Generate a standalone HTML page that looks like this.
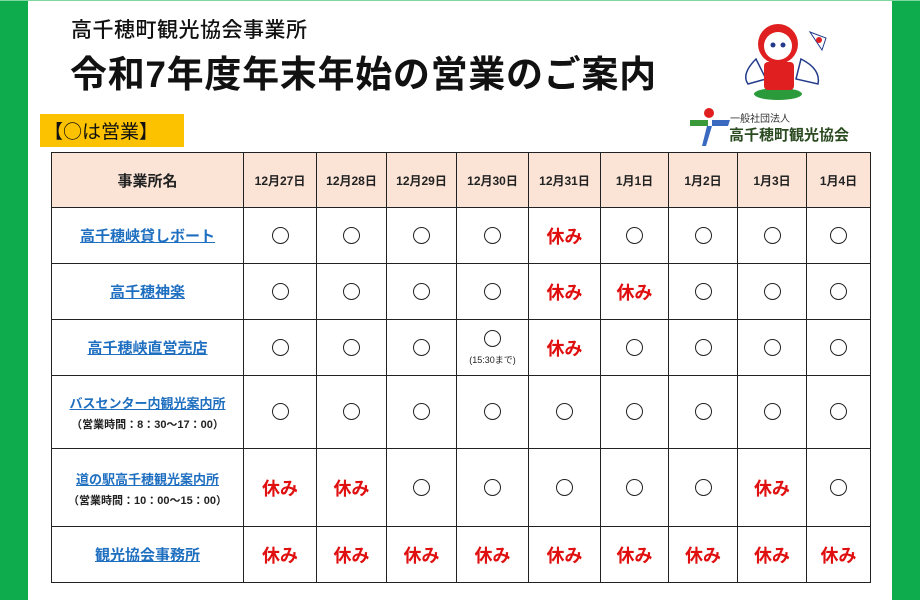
<!DOCTYPE html>
<html><head><meta charset="utf-8"><style>
body{margin:0;width:920px;height:600px;overflow:hidden;background:#fff;font-family:"Liberation Sans","Noto Sans CJK JP",sans-serif;position:relative}
.g{position:absolute;background:#0fac4e}
.t1{position:absolute;left:71px;top:14px;font-size:21px;font-weight:500;color:#111;letter-spacing:0.5px}
.t2{position:absolute;left:70px;top:44px;font-size:37px;font-weight:700;color:#111;letter-spacing:0.7px}
.leg{position:absolute;left:40px;top:114px;width:144px;height:33px;background:#fcc200;font-size:19px;line-height:33px;padding-left:4px;box-sizing:border-box;color:#111;font-family:"Noto Sans CJK JP",sans-serif}
table{position:absolute;left:51px;top:152px;border-collapse:collapse;table-layout:fixed;width:819px}
td{border:1.5px solid #222;text-align:center;padding:0;font-size:19px;color:#222}
tr.h td{background:#fbe4d6;font-size:12px;font-weight:700}
tr.h td:first-child{font-size:15px}
.n{color:#1f6fc0;text-decoration:underline;font-weight:700;font-size:15px}
.s{font-size:11px;font-weight:700;color:#222;display:block;margin-top:2px}
.r{color:#e01010;font-weight:700;font-size:18px}
.o::before{content:"";display:inline-block;width:15px;height:15px;border:1.5px solid #222;border-radius:50%;vertical-align:middle}
</style></head><body>
<div class="g" style="left:0;top:0;width:28px;height:600px"></div>
<div class="g" style="left:892px;top:0;width:28px;height:600px"></div>
<div class="g" style="left:0;top:0;width:920px;height:1px;background:#7fd8a0"></div>
<div class="t1">高千穂町観光協会事業所</div>
<div class="t2">令和7年度年末年始の営業のご案内</div>
<div class="leg">【○は営業】</div>
<svg style="position:absolute;left:726px;top:14px" width="120" height="95">
<ellipse cx="52" cy="80" rx="24" ry="6" fill="#2a9a3a"/>
<path d="M30 45 Q15 60 22 70 L40 65 Z" fill="#fff" stroke="#233a8a" stroke-width="1.5"/>
<path d="M75 45 Q95 55 92 70 L70 65 Z" fill="#fff" stroke="#233a8a" stroke-width="1.5"/>
<rect x="38" y="48" width="30" height="28" rx="4" fill="#e02020"/>
<circle cx="52" cy="30" r="20" fill="#e02020"/>
<circle cx="52" cy="32" r="14" fill="#fff"/>
<circle cx="47" cy="31" r="2.5" fill="#233a8a"/><circle cx="57" cy="31" r="2.5" fill="#233a8a"/>
<path d="M84 18 L100 24 L96 36 Z" fill="#fff" stroke="#233a8a"/><circle cx="93" cy="26" r="3" fill="#e02020"/>
</svg>
<svg style="position:absolute;left:690px;top:106px" width="50" height="42">
<circle cx="19" cy="7" r="5" fill="#e02020"/>
<path d="M0 14 L18 14 L18 20 L0 20 Z" fill="#3a9a3a"/>
<path d="M22 14 L40 14 L38 20 L22 20 Z" fill="#3a6ac0"/>
<path d="M17 20 L22 20 L16 40 L12 40 Z" fill="#3a6ac0"/>
</svg>
<div style="position:absolute;left:730px;top:110px;font-size:10px;color:#333">一般社団法人</div>
<div style="position:absolute;left:729px;top:124px;font-size:15px;font-weight:700;color:#2a4a20">高千穂町観光協会</div>
<table>
<colgroup><col style="width:192px"><col style="width:73px"><col style="width:70px"><col style="width:70px"><col style="width:72px"><col style="width:72px"><col style="width:68px"><col style="width:69px"><col style="width:69px"><col style="width:64px"></colgroup>
<tr class="h" style="height:55px"><td>事業所名</td><td>12月27日</td><td>12月28日</td><td>12月29日</td><td>12月30日</td><td>12月31日</td><td>1月1日</td><td>1月2日</td><td>1月3日</td><td>1月4日</td></tr>
<tr style="height:56px"><td><span class="n">高千穂峡貸しボート</span></td><td class="o"></td><td class="o"></td><td class="o"></td><td class="o"></td><td class="r">休み</td><td class="o"></td><td class="o"></td><td class="o"></td><td class="o"></td></tr>
<tr style="height:56px"><td><span class="n">高千穂神楽</span></td><td class="o"></td><td class="o"></td><td class="o"></td><td class="o"></td><td class="r">休み</td><td class="r">休み</td><td class="o"></td><td class="o"></td><td class="o"></td></tr>
<tr style="height:56px"><td><span class="n">高千穂峡直営売店</span></td><td class="o"></td><td class="o"></td><td class="o"></td><td class="o" style="line-height:18px;padding-top:4px"><span style="font-size:9px;display:block;margin-top:3px">(15:30まで)</span></td><td class="r">休み</td><td class="o"></td><td class="o"></td><td class="o"></td><td class="o"></td></tr>
<tr style="height:73px"><td><span class="n" style="font-size:13px">バスセンター内観光案内所</span><span class="s">（営業時間：8：30～17：00）</span></td><td class="o"></td><td class="o"></td><td class="o"></td><td class="o"></td><td class="o"></td><td class="o"></td><td class="o"></td><td class="o"></td><td class="o"></td></tr>
<tr style="height:78px"><td><span class="n" style="font-size:13px">道の駅高千穂観光案内所</span><span class="s">（営業時間：10：00～15：00）</span></td><td class="r">休み</td><td class="r">休み</td><td class="o"></td><td class="o"></td><td class="o"></td><td class="o"></td><td class="o"></td><td class="r">休み</td><td class="o"></td></tr>
<tr style="height:56px"><td><span class="n">観光協会事務所</span></td><td class="r">休み</td><td class="r">休み</td><td class="r">休み</td><td class="r">休み</td><td class="r">休み</td><td class="r">休み</td><td class="r">休み</td><td class="r">休み</td><td class="r">休み</td></tr>
</table>
</body></html>
